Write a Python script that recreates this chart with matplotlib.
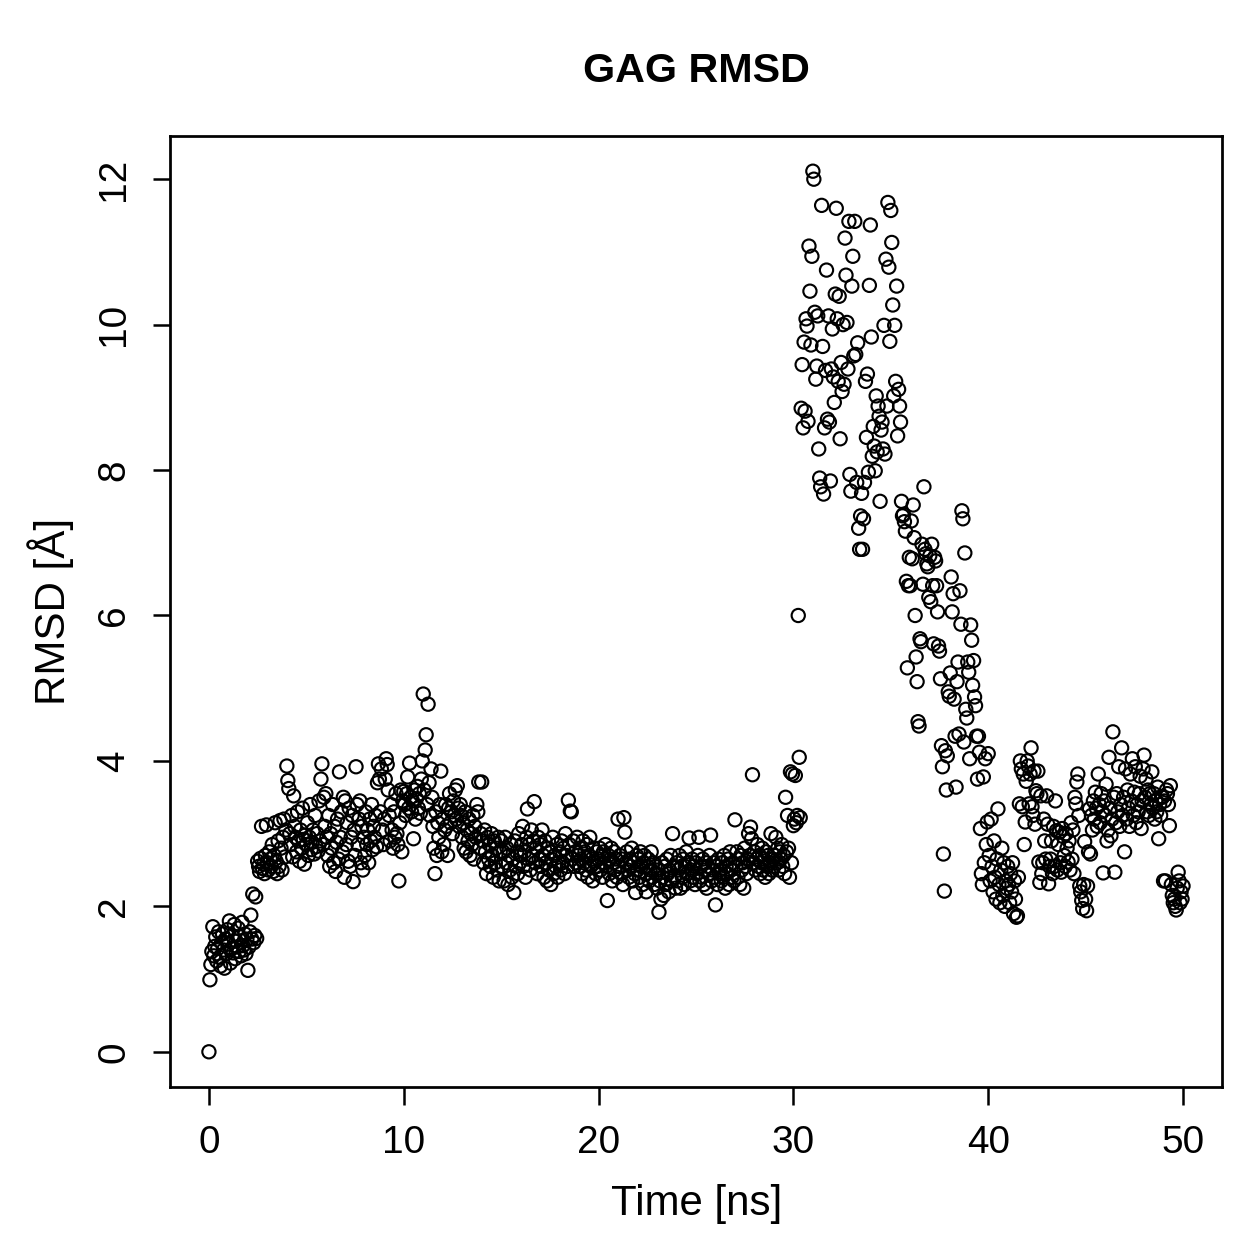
import matplotlib
matplotlib.use("Agg")
from matplotlib import pyplot as plt
import numpy as np

plt.rcParams['font.family'] = ['Liberation Sans', 'DejaVu Sans']

# RMSD of the GAG chain, one row per ns (sampled every 0.05 ns)
rmsd = [
    0.00, 0.99, 1.20, 1.38, 1.72, 1.32, 1.45, 1.58, 1.25, 1.42, 1.65, 1.30, 1.18, 1.50, 1.62, 1.40, 1.15, 1.55, 1.35, 1.68,
    1.48, 1.80, 1.22, 1.42, 1.60, 1.36, 1.75, 1.28, 1.52, 1.44, 1.70, 1.38, 1.58, 1.32, 1.78, 1.46, 1.40, 1.62, 1.35, 1.55,
    1.12, 1.44, 1.65, 1.88, 1.55, 2.17, 1.50, 1.60, 2.13, 1.56, 2.62, 2.55, 2.48, 2.66, 3.10, 2.52, 2.58, 2.45, 2.70, 3.12,
    2.60, 2.50, 2.75, 2.65, 2.55, 2.85, 2.48, 2.70, 3.15, 2.62, 2.45, 2.90, 2.55, 3.18, 2.80, 2.50, 2.95, 3.20, 2.68, 3.05,
    3.93, 3.73, 3.62, 3.00, 2.85, 3.25, 2.68, 3.52, 3.10, 2.95, 2.75, 3.30, 2.90, 2.62, 3.05, 2.80, 3.35, 2.92, 2.58, 2.98,
    2.85, 3.15, 2.70, 2.95, 3.40, 2.78, 2.88, 3.05, 2.72, 3.25, 2.82, 3.00, 2.76, 3.45, 2.90, 3.75, 3.96, 2.85, 3.50, 3.10,
    3.55, 2.95, 2.70, 3.25, 2.55, 3.00, 2.80, 3.40, 2.60, 3.10, 2.48, 2.88, 3.20, 2.65, 3.85, 2.95, 3.30, 2.75, 3.50, 2.40,
    3.45, 2.85, 3.15, 2.62, 3.35, 2.55, 2.95, 3.25, 2.34, 3.05, 2.70, 3.92, 3.40, 2.85, 3.20, 3.45, 2.60, 3.10, 2.50, 2.95,
    2.70, 3.30, 2.85, 3.05, 2.60, 3.20, 2.90, 3.40, 2.78, 3.10, 2.95, 3.25, 2.82, 3.70, 3.96, 3.75, 3.30, 3.89, 3.05, 2.85,
    3.20, 3.75, 4.03, 3.95, 3.60, 3.25, 2.90, 3.40, 3.05, 2.80, 3.30, 2.95, 3.55, 3.00, 2.85, 2.35, 3.15, 3.60, 2.75, 3.45,
    3.58, 3.40, 3.25, 3.55, 3.78, 3.35, 3.97, 3.50, 3.30, 3.45, 2.93, 3.60, 3.20, 3.48, 3.65, 3.35, 3.55, 3.28, 3.75, 4.00,
    4.92, 3.60, 4.15, 4.36, 3.40, 4.78, 3.70, 3.25, 3.89, 3.50, 3.10, 2.80, 2.45, 3.30, 2.70, 3.15, 2.95, 3.40, 3.86, 2.75,
    3.20, 2.85, 3.05, 3.40, 3.10, 2.70, 3.35, 3.55, 3.15, 3.30, 3.00, 3.45, 3.25, 3.60, 3.20, 3.66, 3.35, 3.10, 3.40, 3.25,
    2.95, 3.15, 2.80, 3.30, 2.75, 3.05, 2.90, 3.20, 2.70, 3.00, 2.85, 3.25, 2.65, 3.10, 2.95, 3.40, 3.30, 3.71, 2.80, 3.00,
    3.71, 2.90, 2.60, 3.05, 2.75, 2.45, 2.95, 2.65, 2.85, 2.55, 3.00, 2.70, 2.40, 2.90, 2.60, 2.80, 2.50, 2.95, 2.35, 2.75,
    2.90, 2.55, 2.75, 2.35, 2.95, 2.60, 2.80, 2.30, 2.70, 2.50, 2.85, 2.40, 2.65, 2.19, 2.90, 2.55, 2.75, 2.45, 3.00, 2.60,
    2.70, 2.85, 3.10, 2.55, 2.75, 2.40, 2.95, 3.34, 2.65, 2.85, 2.50, 3.05, 2.70, 2.90, 3.44, 2.60, 2.80, 2.45, 2.95, 2.65,
    2.85, 2.55, 3.05, 2.70, 2.40, 2.90, 2.60, 2.35, 2.80, 2.50, 2.75, 2.30, 2.65, 2.95, 2.45, 2.70, 2.55, 2.85, 2.40, 2.60,
    2.75, 2.50, 2.90, 2.60, 2.80, 2.45, 3.00, 2.70, 2.55, 3.46, 2.85, 3.31, 3.30, 2.65, 2.90, 2.55, 2.75, 2.60, 2.95, 2.70,
    2.55, 2.80, 2.65, 2.45, 2.90, 2.60, 2.75, 2.50, 2.85, 2.40, 2.70, 2.95, 2.55, 2.65, 2.35, 2.80, 2.60, 2.45, 2.75, 2.55,
    2.65, 2.80, 2.50, 2.70, 2.40, 2.75, 2.60, 2.85, 2.55, 2.08, 2.70, 2.45, 2.65, 2.80, 2.35, 2.60, 2.75, 2.50, 2.65, 2.40,
    3.20, 2.55, 2.70, 2.45, 2.65, 2.30, 3.22, 3.02, 2.60, 2.75, 2.50, 2.40, 2.65, 2.55, 2.80, 2.35, 2.60, 2.45, 2.19, 2.70,
    2.50, 2.65, 2.40, 2.75, 2.55, 2.30, 2.60, 2.70, 2.45, 2.20, 2.55, 2.65, 2.35, 2.50, 2.75, 2.40, 2.60, 2.30, 2.55, 2.45,
    2.25, 2.50, 1.92, 2.35, 2.10, 2.60, 2.40, 2.15, 2.55, 2.30, 2.65, 2.45, 2.20, 2.50, 2.70, 2.35, 3.00, 2.55, 2.40, 2.25,
    2.60, 2.35, 2.50, 2.70, 2.25, 2.55, 2.40, 2.65, 2.30, 2.55, 2.75, 2.45, 2.60, 2.94, 2.35, 2.50, 2.65, 2.40, 2.55, 2.30,
    2.60, 2.45, 2.70, 2.95, 2.35, 2.55, 2.40, 2.65, 2.30, 2.50, 2.60, 2.25, 2.55, 2.45, 2.70, 2.98, 2.35, 2.50, 2.60, 2.40,
    2.02, 2.55, 2.30, 2.65, 2.45, 2.50, 2.35, 2.60, 2.40, 2.70, 2.25, 2.55, 2.45, 2.65, 2.30, 2.75, 2.50, 2.40, 2.60, 2.35,
    3.19, 2.55, 2.75, 2.40, 2.65, 2.30, 2.70, 2.50, 2.60, 2.25, 2.80, 2.55, 2.45, 2.65, 3.00, 2.70, 3.09, 2.93, 3.81, 2.60,
    2.75, 2.50, 2.65, 2.85, 2.55, 2.70, 2.45, 2.60, 2.80, 2.50, 2.65, 2.40, 2.75, 2.55, 2.70, 2.45, 2.60, 3.00, 2.50, 2.65,
    2.55, 2.70, 2.95, 2.60, 2.80, 2.50, 2.75, 2.65, 2.85, 2.55, 2.70, 2.45, 3.50, 2.75, 3.25, 2.80, 2.40, 3.85, 2.60, 3.82,
    3.11, 3.20, 3.80, 3.15, 3.25, 6.00, 4.05, 3.22, 8.85, 9.45, 8.58, 9.76, 8.81, 10.08, 9.98, 8.67, 11.08, 10.46, 9.72, 10.94,
    12.11, 12.00, 10.17, 9.25, 9.43, 10.12, 8.29, 7.89, 7.77, 11.64, 9.70, 7.67, 8.58, 9.37, 10.75, 8.70, 10.12, 8.66, 7.85, 9.39,
    9.94, 9.28, 8.93, 10.42, 11.60, 10.08, 9.22, 10.39, 8.43, 9.48, 9.08, 10.00, 9.18, 11.19, 10.68, 10.03, 9.39, 11.42, 7.94, 7.71,
    10.53, 10.94, 9.57, 11.42, 9.59, 7.83, 9.75, 7.20, 6.91, 7.37, 7.68, 6.91, 7.33, 7.83, 9.22, 8.45, 9.32, 7.97, 10.54, 11.37,
    9.83, 8.19, 8.60, 8.33, 7.99, 9.02, 8.25, 8.88, 8.74, 7.57, 8.55, 8.66, 8.29, 9.99, 8.22, 10.90, 8.88, 11.68, 10.79, 9.77,
    11.57, 11.13, 10.27, 9.02, 9.99, 9.22, 10.53, 8.47, 9.11, 8.88, 8.66, 7.57, 7.37, 7.39, 7.29, 7.16, 6.47, 5.28, 6.41, 6.80,
    6.41, 7.30, 6.78, 7.52, 7.07, 6.00, 5.43, 5.09, 4.54, 4.48, 5.68, 5.64, 6.98, 6.43, 7.77, 6.91, 6.85, 6.71, 6.67, 6.25,
    6.82, 6.19, 6.98, 6.41, 5.61, 6.80, 6.75, 6.41, 6.05, 5.58, 5.51, 5.13, 4.21, 3.92, 2.72, 2.21, 4.14, 3.60, 4.07, 4.95,
    4.89, 5.21, 6.53, 6.05, 6.30, 4.85, 4.34, 3.64, 5.09, 5.36, 4.37, 6.34, 5.88, 7.44, 7.33, 4.26, 6.86, 4.71, 4.59, 5.36,
    5.22, 4.03, 5.87, 5.66, 5.04, 5.38, 4.88, 4.76, 4.34, 3.75, 4.34, 4.12, 3.07, 2.45, 2.30, 3.78, 2.60, 4.03, 2.85, 3.16,
    4.10, 2.70, 2.35, 3.20, 2.55, 2.20, 2.90, 2.40, 2.10, 2.65, 3.34, 2.30, 2.05, 2.50, 2.80, 2.15, 2.60, 2.00, 2.35, 2.25,
    2.55, 2.30, 2.05, 2.45, 2.20, 2.60, 1.90, 2.35, 2.10, 1.85, 1.87, 2.40, 3.41, 4.00, 3.89, 3.37, 3.82, 2.85, 3.16, 3.72,
    4.00, 3.93, 3.41, 3.82, 4.18, 3.37, 3.25, 3.86, 3.13, 3.59, 3.55, 3.86, 2.61, 2.33, 3.52, 2.45, 2.60, 3.20, 2.90, 2.65,
    3.52, 3.13, 2.31, 2.55, 2.65, 2.90, 2.45, 3.10, 2.55, 3.45, 3.04, 2.50, 2.85, 3.02, 2.60, 2.47, 3.07, 2.96, 2.70, 2.55,
    3.00, 2.80, 2.61, 2.90, 2.50, 3.15, 2.65, 3.05, 2.45, 3.50, 3.41, 3.71, 3.82, 3.25, 2.28, 2.20, 2.08, 1.97, 2.30, 2.89,
    2.10, 1.94, 2.28, 2.75, 3.34, 2.72, 3.25, 3.05, 3.45, 3.20, 3.57, 3.35, 3.10, 3.82, 3.40, 3.15, 3.55, 3.30, 2.46, 3.45,
    3.25, 3.68, 2.90, 3.05, 4.05, 3.35, 2.97, 3.20, 4.40, 3.50, 2.47, 3.15, 3.55, 3.30, 3.92, 3.10, 3.40, 4.18, 3.25, 3.50,
    2.75, 3.89, 3.20, 3.60, 3.35, 3.10, 3.82, 3.45, 4.03, 3.25, 3.57, 3.92, 3.15, 3.40, 3.30, 3.55, 3.79, 3.07, 3.45, 3.89,
    4.08, 3.50, 3.75, 3.30, 3.60, 3.25, 3.55, 3.40, 3.85, 3.35, 3.55, 3.20, 3.45, 3.30, 3.64, 2.93, 3.40, 3.25, 3.51, 3.50,
    2.35, 3.45, 2.35, 3.60, 3.55, 3.40, 3.11, 3.66, 2.30, 2.15, 2.05, 2.10, 2.00, 1.95, 2.25, 2.47, 2.35, 2.05, 2.20, 2.10,
    2.28,
]
t_start, t_end = 0.0, 50.0
time_ns = np.linspace(t_start, t_end, len(rmsd))

x_ticks = [0, 10, 20, 30, 40, 50]
y_ticks = [0, 2, 4, 6, 8, 10, 12]

fig = plt.figure(figsize=(1259 / 180, 1259 / 180), dpi=180)
ax = fig.add_axes([0.135, 0.1366, 0.8356, 0.7554])

ax.scatter(time_ns, rmsd, s=28, facecolors='none', edgecolors='black', linewidths=0.85)

ax.margins(x=0.04, y=0.04)
ax.set_xticks(x_ticks)
ax.set_yticks(y_ticks)
ax.tick_params(direction='out', length=7, width=1.0, labelsize=15.5, pad=8, colors='black')
for lab in ax.get_yticklabels():
    lab.set_rotation(90)
    lab.set_va('center')

for sp in ax.spines.values():
    sp.set_linewidth(1.1)
    sp.set_color('black')

fig.text(0.553, 0.944, 'GAG RMSD', ha='center', va='center', fontsize=16.5, fontweight='bold')
fig.text(0.553, 0.044, 'Time [ns]', ha='center', va='center', fontsize=16.8)
fig.text(0.04, 0.514, 'RMSD [Å]', ha='center', va='center', rotation=90, fontsize=16.8)

fig.savefig('out.png', dpi=180)
